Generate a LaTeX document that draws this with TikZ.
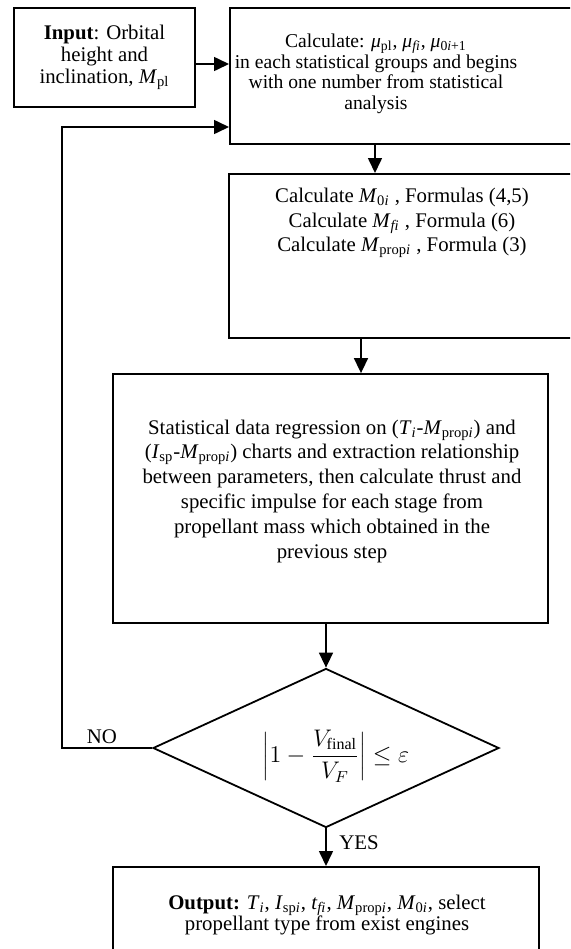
\documentclass[tikz,border=0pt]{standalone}
\usepackage{fontspec}
\setmainfont{Liberation Serif}
\usetikzlibrary{arrows.meta,positioning,shapes.geometric}

\newcommand{\vsub}[2]{\textit{#1}\textsubscript{#2}}

\begin{document}
\begin{tikzpicture}[x=0.5pt, y=-0.5pt, >={Triangle[length=7.5pt,width=7pt]},
	box/.style={draw, line width=0.9pt, inner sep=0pt},
	txt/.style={align=center, inner sep=0pt, font=\fontsize{10.4}{12.3}\selectfont},
	arr/.style={->, line width=0.8pt}]
	\useasboundingbox (0,0) rectangle (570,949);
	\clip (0,0) rectangle (570,949);

	% Boxes {input, calc, mass, regression, check, output}
	\node [box, txt, font=\fontsize{10.4}{11}\selectfont, minimum width=90.5pt, minimum height=49.5pt] (inp) at (104.5,57.5)
		{\textbf{Input}: Orbital\\height and\\inclination, \vsub{M}{pl}};
	\node [box, anchor=north west, minimum width=200pt, minimum height=68pt] (calc) at (229,7) {};
	\node [txt, font=\fontsize{9.8}{10.3}\selectfont] (calctxt) at (376,74)
		{Calculate: \vsub{μ}{pl}, \vsub{μ}{\textit{fi}}, \vsub{μ}{0\textit{i}+1}\\in each statistical groups and begins\\with one number from statistical\\analysis};
	\node [box, anchor=north west, minimum width=200pt, minimum height=82pt] (mass) at (228,173) {};
	\node [txt] (masstxt) at (402,223)
		{Calculate \vsub{M}{0\textit{i}} , Formulas (4,5)\\Calculate \vsub{M}{\textit{fi}} , Formula (6)\\Calculate \vsub{M}{prop\textit{i}} , Formula (3)};
	\node [box, minimum width=217.5pt, minimum height=124.5pt] (regr) at (330.5,498.5) {};
	\node [txt, font=\fontsize{10.4}{12.4}\selectfont] (regrtxt) at (332,491)
		{Statistical data regression on (\vsub{T}{\textit{i}}-\vsub{M}{prop\textit{i}}) and\\(\vsub{I}{sp}-\vsub{M}{prop\textit{i}}) charts and extraction relationship\\between parameters, then calculate thrust and\\specific impulse for each stage from\\propellant mass which obtained in the\\previous step};
	\node [draw, diamond, line width=0.9pt, inner sep=0pt, minimum width=173pt, minimum height=79.5pt] (dec) at (326,748) {};
	\node [txt, font=\fontsize{12}{14}\selectfont] (dectxt) at (336,756)
		{$\displaystyle\left|1-\frac{V_{\mathrm{final}}}{V_F}\right|\le\varepsilon$};
	\node [box, anchor=north west, minimum width=213pt, minimum height=60pt] (out) at (112,866) {};
	\node [txt, font=\fontsize{10.4}{10.8}\selectfont] (outtxt) at (327,915)
		{\textbf{Output:} \vsub{T}{\textit{i}}, \vsub{I}{sp\textit{i}}, \vsub{t}{\textit{fi}}, \vsub{M}{prop\textit{i}}, \vsub{M}{0\textit{i}}, select\\propellant type from exist engines};

	% Labels
	\node [txt] (no) at (102,737) {NO};
	\node [txt, anchor=west] (yes) at (339,843) {YES};

	% Turning points
	\coordinate (inrow) at (0,64);
	\coordinate (col1) at (375,0);
	\coordinate (col2) at (361,0);
	\coordinate (fbk) at (62,127);

	% Paths
	\draw [arr] (inp.east |- inrow) -- (calc.west |- inrow);
	\draw [arr] (calc.south -| col1) -- (mass.north -| col1);
	\draw [arr] (mass.south -| col2) -- (regr.north -| col2);
	\draw [arr] (regr.south -| dec.north) -- (dec.north);
	\draw [arr] (dec.south) -- (out.north -| dec.south);
	\draw [arr] (dec.west) -| (fbk) -- (fbk -| calc.west);
\end{tikzpicture}
\end{document}
